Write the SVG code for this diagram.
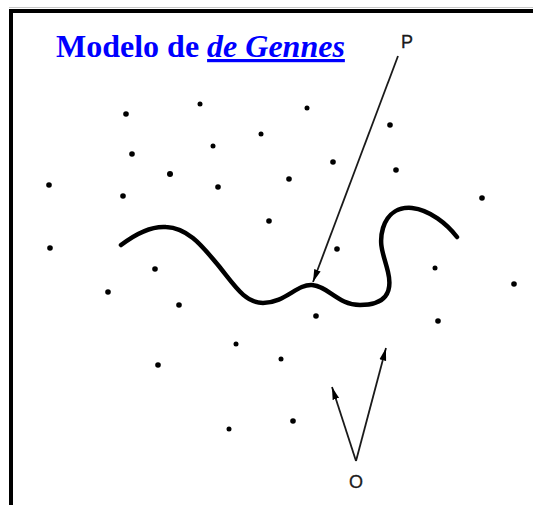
<svg xmlns="http://www.w3.org/2000/svg" width="533" height="505" viewBox="0 0 533 505">
<defs>
<style>
.dot{fill:#000}
.conn{stroke:#1a1a1a;stroke-width:1.8;fill:none;marker-end:url(#ah)}
.lbl{font-family:"Liberation Sans",Arial,sans-serif;font-size:18px;fill:#1a1a1a;stroke:#1a1a1a;stroke-width:0.3}
.title{font-family:"Liberation Serif","Times New Roman",serif;font-size:32px;font-weight:bold;fill:#0000ff}
</style>
<marker id="ah" viewBox="0 0 10 6" refX="10" refY="3" markerWidth="7" markerHeight="4.4" orient="auto" markerUnits="strokeWidth">
<path d="M0,0.3 L10,3 L0,5.7 Z" fill="#000"/>
</marker>
</defs>
<rect width="533" height="505" fill="#fff"/>
<g id="frame">
<line x1="9" y1="7.5" x2="533" y2="7.5" stroke="#c8c8c8" stroke-width="1"/>
<path d="M11,505 V11 H533" fill="none" stroke="#000" stroke-width="4"/>
</g>
<g id="title">
<text class="title" x="56" y="57">Modelo de <tspan font-style="italic" text-decoration="underline">de Gennes</tspan></text>
</g>
<g id="chain">
<path d="M121,245 C138,232 152,226 166,227 C190,228 205,250 218,265 C235,286 245,303 263,303 C285,303 297,284 312,285 C328,286 338,305 360,305 C385,305 393,293 388,272 C384,255 378,245 383,228 C388,212 400,207 412,208 C430,210 447,224 457,237" fill="none" stroke="#000" stroke-width="4.5" stroke-linecap="round"/>
</g>
<g id="dots">
<circle class="dot" cx="126" cy="114" r="2.8"/>
<circle class="dot" cx="200" cy="104" r="2.5"/>
<circle class="dot" cx="307" cy="108" r="2.5"/>
<circle class="dot" cx="390" cy="125" r="2.8"/>
<circle class="dot" cx="132" cy="154" r="2.8"/>
<circle class="dot" cx="213" cy="146" r="2.5"/>
<circle class="dot" cx="261" cy="134" r="2.5"/>
<circle class="dot" cx="333" cy="162" r="2.8"/>
<circle class="dot" cx="396" cy="170" r="2.8"/>
<circle class="dot" cx="49" cy="185" r="2.8"/>
<circle class="dot" cx="123" cy="196" r="2.8"/>
<circle class="dot" cx="170" cy="174" r="3"/>
<circle class="dot" cx="218" cy="187" r="2.8"/>
<circle class="dot" cx="289" cy="179" r="2.8"/>
<circle class="dot" cx="482" cy="198" r="2.8"/>
<circle class="dot" cx="269" cy="221" r="2.8"/>
<circle class="dot" cx="50" cy="248" r="2.8"/>
<circle class="dot" cx="337" cy="249" r="2.8"/>
<circle class="dot" cx="155" cy="269" r="2.8"/>
<circle class="dot" cx="435" cy="268" r="2.5"/>
<circle class="dot" cx="108" cy="292" r="2.8"/>
<circle class="dot" cx="179" cy="305" r="2.8"/>
<circle class="dot" cx="514" cy="284" r="2.8"/>
<circle class="dot" cx="316" cy="316" r="2.8"/>
<circle class="dot" cx="438" cy="321" r="2.8"/>
<circle class="dot" cx="236" cy="344" r="2.5"/>
<circle class="dot" cx="281" cy="359" r="2.5"/>
<circle class="dot" cx="158" cy="365" r="2.8"/>
<circle class="dot" cx="229" cy="429" r="2.5"/>
<circle class="dot" cx="293" cy="421" r="2.8"/>
</g>
<g id="connectors">
<line class="conn" x1="398" y1="56" x2="313" y2="282" stroke-width="1.6"/>
<line class="conn" x1="356" y1="461" x2="386" y2="348"/>
<line class="conn" x1="356" y1="461" x2="332" y2="387"/>
</g>
<g id="label-P"><text class="lbl" x="401" y="48">P</text></g>
<g id="label-O"><text class="lbl" x="356" y="488" text-anchor="middle">O</text></g>
</svg>
